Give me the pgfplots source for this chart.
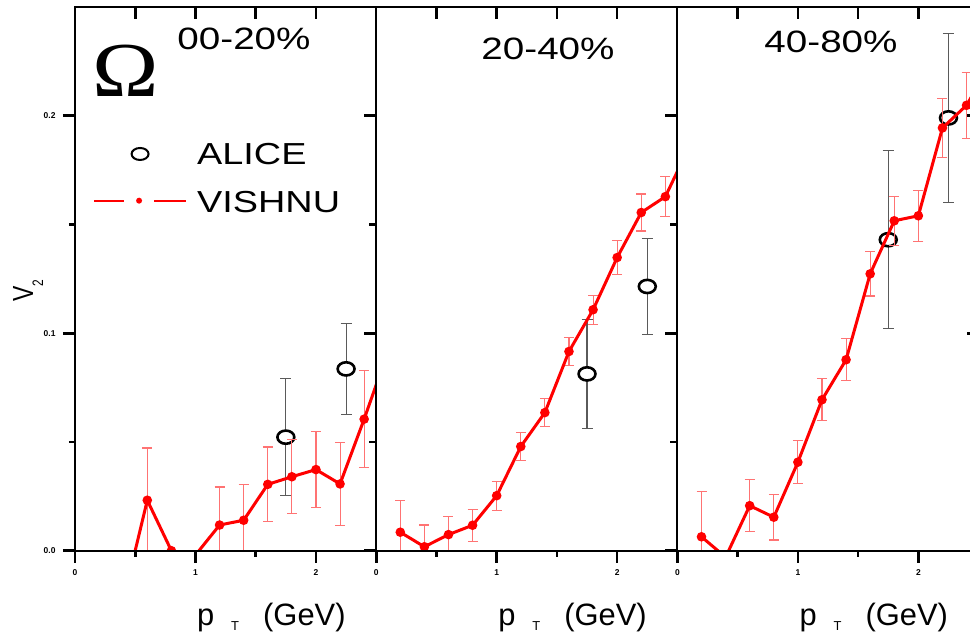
\documentclass[border=0pt]{standalone}
\usepackage{pgfplots}
\usepackage{pgfplotstable}
\usepackage{graphicx}
\usepackage{fontspec}
\pgfplotsset{compat=1.18}
\setmainfont{Liberation Sans}
\newfontfamily\omegafont{Liberation Serif}

% ---------- data: panel 1 (00-20%) ----------
\pgfplotstableread{
x y e
0.2 -0.015 0
0.4 -0.023 0
0.6 0.0232 0.0240
0.8 0.0000 0
1.0 -0.002 0
1.2 0.0118 0.0175
1.4 0.0140 0.0165
1.6 0.0305 0.0172
1.8 0.0340 0.0170
2.0 0.0373 0.0175
2.2 0.0307 0.0190
2.4 0.0605 0.0222
2.6 0.0920 0.0240
}\vishA
\pgfplotstableread{
x y e
1.75 0.0522 0.027
2.25 0.0836 0.021
}\aliceA
% ---------- data: panel 2 (20-40%) ----------
\pgfplotstableread{
x y e
0.2 0.0085 0.0147
0.4 0.0018 0.0100
0.6 0.0074 0.0082
0.8 0.0117 0.0073
1.0 0.0253 0.0067
1.2 0.0479 0.0065
1.4 0.0635 0.0065
1.6 0.0916 0.0066
1.8 0.1108 0.0067
2.0 0.1348 0.0077
2.2 0.1555 0.0085
2.4 0.1628 0.0093
2.6 0.1860 0.0100
}\vishB
\pgfplotstableread{
x y e
1.75 0.0813 0.025
2.25 0.1215 0.022
}\aliceB
% ---------- data: panel 3 (40-80%) ----------
\pgfplotstableread{
x y e
0.2 0.0064 0.0208
0.4 -0.0030 0
0.6 0.0207 0.0120
0.8 0.0154 0.0105
1.0 0.0407 0.0098
1.2 0.0694 0.0097
1.4 0.0878 0.0097
1.6 0.1273 0.0102
1.8 0.1517 0.0112
2.0 0.1540 0.0118
2.2 0.1944 0.0137
2.4 0.2048 0.0152
2.6 0.2240 0.0160
}\vishC
\pgfplotstableread{
x y e
1.75 0.143 0.041
2.25 0.199 0.039
}\aliceC

\definecolor{vred}{RGB}{255,0,0}
\definecolor{vbar}{RGB}{255,115,115}
\definecolor{abar}{RGB}{90,90,90}

\newcommand\bigsans{\fontsize{31}{36}\selectfont}

\pgfplotsset{
  base/.style={
    scale only axis, width=301.2bp, height=543.7bp, anchor=south west,
    xmin=0, xmax=2.5, ymin=0, ymax=0.25,
  },
  data/.style={base, hide axis, clip marker paths=true},
  outer/.style={base,
    xtick={0,1,2}, minor xtick={0.5,1.5},
    ytick={0,0.1,0.2}, minor ytick={0.05,0.15},
    xtick pos=bottom, ytick pos=left,
    tick align=outside,
    major tick length=12bp, minor tick length=6bp,
    tick style={black, line width=2.6bp, line cap=butt},
    axis line style={black, line width=2bp},
    /pgf/number format/assume math mode=true,
    ticklabel style={font=\fontsize{8.5}{10}\selectfont\bfseries},
    xticklabel style={yshift=-3bp},
    yticklabel style={xshift=-4bp, /pgf/number format/.cd, fixed, fixed zerofill, precision=1},
  },
  inner/.style={base,
    xtick={0.5,1,1.5,2}, ytick={0.1,0.2}, minor ytick={0.05,0.15},
    xtick pos=top, ytick pos=right, tick align=inside,
    xticklabels={}, yticklabels={},
    major tick length=12bp, minor tick length=7bp,
    tick style={black, line width=2.6bp, line cap=butt},
    axis line style={black, line width=2bp},
  },
  vishnu err/.style={only marks, mark=none, forget plot,
    error bars/.cd, y dir=both, y explicit,
    error bar style={draw=vbar, solid, line width=1.1bp},
    error mark options={rotate=90, draw=vbar, mark size=5bp, line width=1.1bp}},
  alice err/.style={only marks, mark=none, forget plot,
    error bars/.cd, y dir=both, y explicit,
    error bar style={draw=abar, solid, line width=1.1bp},
    error mark options={rotate=90, draw=abar, mark size=5.5bp, line width=1.1bp}},
  vishnu/.style={vred, line width=3bp, mark=*, mark size=3.2bp,
    mark options={draw=none, fill=vred}, forget plot},
  alice/.style={only marks, mark=*, mark size=6.6bp,
    mark options={fill=white, draw=black, line width=2.6bp, xscale=1.28}, forget plot},
}

\begin{document}
\begin{tikzpicture}
\useasboundingbox (0,0) rectangle (970bp,632bp);

% ================= Panel 1 =================
\begin{axis}[data, at={(75bp,81.3bp)},
  legend cell align=left,
  legend style={at={(0.0597,0.7499)}, anchor=north west, draw=none, fill=none,
    inner sep=0pt, outer sep=0pt, row sep=23.7bp, column sep=10bp,
    font=\fontsize{30.5}{36}\selectfont,
    nodes={inner sep=0pt, text height=22bp, text depth=2bp}}]
\addplot[alice err] table[x=x, y=y, y error=e] {\aliceA};
\addplot[alice] table[x=x, y=y] {\aliceA};
\addplot[vishnu err] table[x=x, y expr={\thisrow{e}>0 ? \thisrow{y} : nan}, y error=e] {\vishA};
\addplot[vishnu] table[x=x, y=y] {\vishA};
\addlegendimage{legend image code/.code={
  \path[draw=none, fill=none] (0bp,0bp) -- (92bp,0bp);
  \draw[black, line width=2bp, fill=none] (46bp,1bp) ellipse [x radius=8.5bp, y radius=6bp];}}
\addlegendentry{\scalebox{1.245}[1]{ALICE}}
\addlegendimage{legend image code/.code={
  \path[draw=none, fill=none] (0bp,0bp) -- (92bp,0bp);
  \draw[vred, line width=2.2bp] (0bp,2bp) -- (30bp,2bp) (60bp,2bp) -- (92bp,2bp);
  \fill[vred, draw=none] (45bp,2bp) circle [radius=3bp];}}
\addlegendentry{\scalebox{1.245}[1]{VISHNU}}
\end{axis}
\begin{axis}[outer, at={(75bp,81.3bp)}]
\end{axis}
\begin{axis}[inner, at={(75bp,81.3bp)}]
\end{axis}

% ================= Panel 2 =================
\begin{axis}[data, at={(376.2bp,81.3bp)}]
\addplot[alice err] table[x=x, y=y, y error=e] {\aliceB};
\addplot[alice] table[x=x, y=y] {\aliceB};
\addplot[vishnu err] table[x=x, y expr={\thisrow{e}>0 ? \thisrow{y} : nan}, y error=e] {\vishB};
\addplot[vishnu] table[x=x, y=y] {\vishB};
\end{axis}
\begin{axis}[outer, at={(376.2bp,81.3bp)}, yticklabels={}]
\end{axis}
\begin{axis}[inner, at={(376.2bp,81.3bp)}]
\end{axis}

% ================= Panel 3 =================
\begin{axis}[data, at={(677.4bp,81.3bp)}]
\addplot[alice err] table[x=x, y=y, y error=e] {\aliceC};
\addplot[alice] table[x=x, y=y] {\aliceC};
\addplot[vishnu err] table[x=x, y expr={\thisrow{e}>0 ? \thisrow{y} : nan}, y error=e] {\vishC};
\addplot[vishnu] table[x=x, y=y] {\vishC};
\end{axis}
\begin{axis}[outer, at={(677.4bp,81.3bp)}, yticklabels={}]
\end{axis}
\begin{axis}[inner, at={(677.4bp,81.3bp)}]
\end{axis}

% ================= Texts =================
\node[anchor=base, inner sep=0pt] at (125.5bp,535bp)
  {\omegafont\fontsize{78}{80}\selectfont\scalebox{1.15}[1]{Ω}};
\node[anchor=base, inner sep=0pt] at (244bp,582bp) {\bigsans\scalebox{1.25}[1]{00-20\%}};
\node[anchor=base, inner sep=0pt] at (548bp,572bp) {\bigsans\scalebox{1.25}[1]{20-40\%}};
\node[anchor=base, inner sep=0pt] at (831bp,579bp) {\bigsans\scalebox{1.25}[1]{40-80\%}};

% y label
\node[rotate=90, anchor=base, inner sep=0pt] at (33bp,341.5bp)
  {\scalebox{1}[1.27]{\fontsize{23}{26}\selectfont V\raisebox{-8bp}{\fontsize{12}{14}\selectfont 2}}};

% x labels
\foreach \L in {75,376.2,677.4}{
  \node[anchor=base west, inner sep=0pt] at (\L bp+122bp,7bp) {\bigsans p};
  \node[anchor=base west, inner sep=0pt] at (\L bp+156bp,1.5bp) {\fontsize{13}{14}\selectfont T};
  \node[anchor=base west, inner sep=0pt] at (\L bp+188bp,7bp) {\bigsans (GeV)};
}
\end{tikzpicture}
\end{document}
